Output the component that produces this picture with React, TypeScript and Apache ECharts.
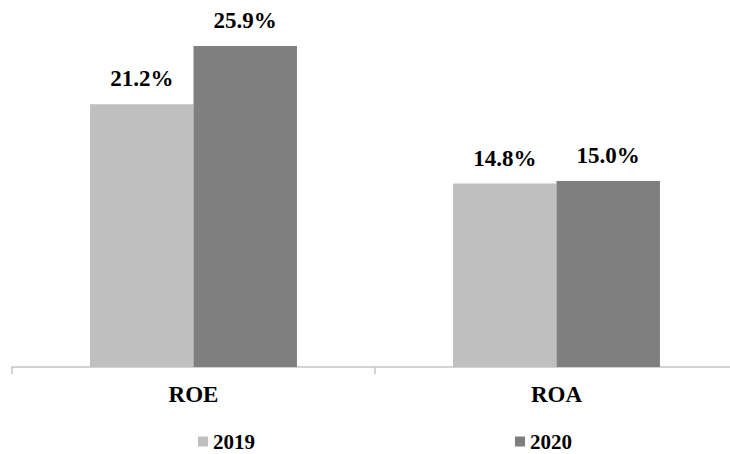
import React, { useEffect, useRef } from "react";
import * as echarts from "echarts";

const categories = ["ROE", "ROA"];
const seriesNames = ["2019", "2020"];
const values2019 = [21.2, 14.8];
const values2020 = [25.9, 15.0];
const seriesColors = ["#bfbfbf", "#7f7f7f"];

const FONT = "'Times New Roman', 'Liberation Serif', serif";

export default function App() {
  const ref = useRef<HTMLDivElement>(null);

  useEffect(() => {
    if (!ref.current) return;
    const chart = echarts.init(ref.current, undefined, { renderer: "svg" });

    const makeSeries = (name: string, data: number[], color: string) => ({
      name,
      type: "bar",
      data,
      barGap: "0%",
      barCategoryGap: "43%",
      itemStyle: { color },
      label: {
        show: true,
        position: "top",
        distance: 14,
        formatter: (p: any) => `${Number(p.value).toFixed(1)}%`,
        fontFamily: FONT,
        fontWeight: "bold",
        fontSize: 23,
        color: "#000",
      },
    });

    chart.setOption({
      animation: false,
      backgroundColor: "#fff",
      grid: {
        left: 12,
        width: 726,
        top: 20,
        bottom: 87,
        containLabel: false,
        outerBoundsMode: "none",
      },
      legend: {
        data: seriesNames,
        left: 198,
        top: 431,
        padding: 0,
        itemWidth: 10,
        itemHeight: 10,
        itemGap: 260,
        icon: "rect",
        textStyle: {
          fontFamily: FONT,
          fontWeight: "bold",
          fontSize: 21,
          color: "#000",
        },
      },
      xAxis: {
        type: "category",
        data: categories,
        axisLine: { show: true, lineStyle: { color: "#c4c4c4", width: 1.5 } },
        axisTick: { show: true, length: 7, lineStyle: { color: "#c4c4c4", width: 1.5 } },
        axisLabel: {
          margin: 16,
          fontFamily: FONT,
          fontWeight: "bold",
          fontSize: 23,
          color: "#000",
        },
      },
      yAxis: {
        type: "value",
        min: 0,
        max: 28,
        show: false,
        splitLine: { show: false },
      },
      series: [
        makeSeries(seriesNames[0], values2019, seriesColors[0]),
        makeSeries(seriesNames[1], values2020, seriesColors[1]),
      ],
    });

    return () => chart.dispose();
  }, []);

  return (
    <div
      ref={ref}
      style={{ position: "absolute", left: 0, top: 0, width: 730, height: 454 }}
    />
  );
}
